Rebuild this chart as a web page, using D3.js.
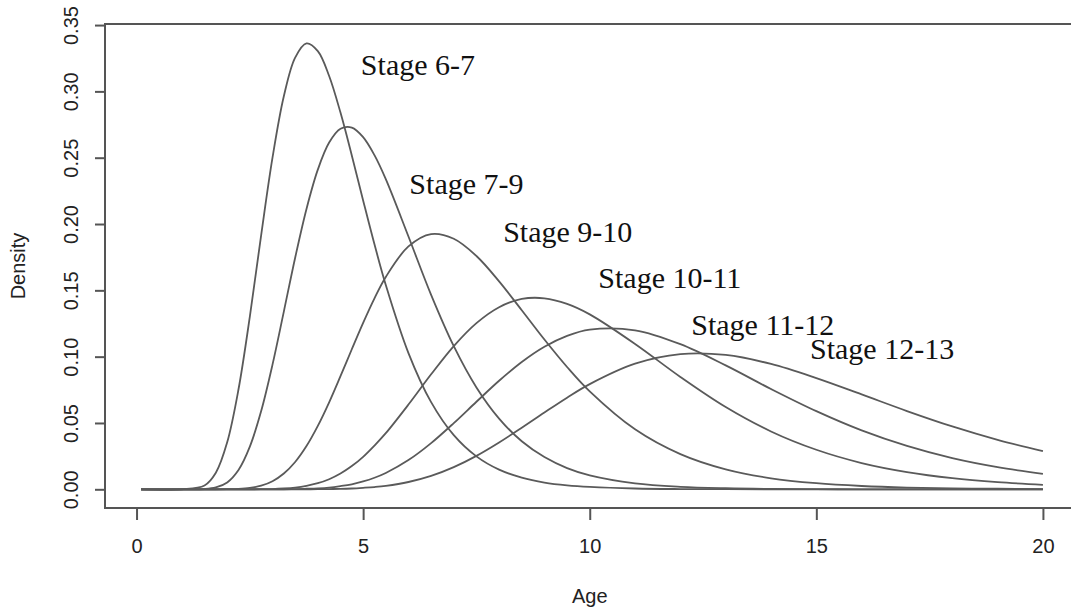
<!DOCTYPE html>
<html>
<head>
<meta charset="utf-8">
<script src="https://cdn.jsdelivr.net/npm/d3@7"></script>
<style>
  body { margin: 0; background: #fff; }
  #chart { width: 1071px; height: 615px; }
  .axis text { font-family: "Liberation Sans", Arial, sans-serif; font-size: 20px; fill: #222; }
  .axis path, .axis line { stroke: #555; stroke-width: 2; }
  .stage-label { font-family: "Liberation Serif", "Times New Roman", serif; font-size: 30px; fill: #111; }
  .axis-title { font-family: "Liberation Sans", Arial, sans-serif; font-size: 20px; fill: #222; }
</style>
</head>
<body>
<div id="chart"></div>
<script>
let ages = [0.1, 1, 1.5, 1.75, 2, 2.25, 2.5, 2.75, 3, 3.25, 3.5, 3.75, 4, 4.25, 4.5, 4.75,
  5, 5.25, 5.5, 6, 6.5, 7, 7.5, 8, 8.5, 9, 9.5, 10, 11, 12, 13, 14, 15, 16, 17, 18, 19, 20]

let stage67 = [0, 0, 0.0029, 0.0125, 0.0354, 0.0754, 0.1302, 0.1917, 0.2500, 0.2963, 0.3255, 0.3362,
  0.3304, 0.3116, 0.2840, 0.2517, 0.2178, 0.1847, 0.1540, 0.1027, 0.0657, 0.0408, 0.0248, 0.0148,
  0.0088, 0.0051, 0.0030, 0.0018, 0.0006, 0.0002, 0.0001, 0, 0, 0, 0, 0, 0, 0]
let stage79 = [0, 0, 0.0002, 0.0014, 0.0052, 0.0146, 0.0322, 0.0590, 0.0940, 0.1340, 0.1746, 0.2114,
  0.2410, 0.2614, 0.2718, 0.2727, 0.2655, 0.2519, 0.2338, 0.1906, 0.1466, 0.1079, 0.0768, 0.0533,
  0.0362, 0.0243, 0.0160, 0.0105, 0.0045, 0.0019, 0.0008, 0.0003, 0.0001, 0, 0, 0, 0, 0]
let stage910 = [0, 0, 0, 0, 0.0001, 0.0003, 0.0010, 0.0027, 0.0061, 0.0119, 0.0206, 0.0326,
  0.0478, 0.0656, 0.0853, 0.1056, 0.1255, 0.1440, 0.1601, 0.1831, 0.1924, 0.1889, 0.1759, 0.1568,
  0.1350, 0.1129, 0.0922, 0.0738, 0.0452, 0.0265, 0.0150, 0.0083, 0.0046, 0.0025, 0.0013, 0.0007, 0.0004, 0.0002]
let stage1011 = [0, 0, 0, 0, 0, 0, 0, 0.0001, 0.0002, 0.0006, 0.0013, 0.0026,
  0.0046, 0.0076, 0.0119, 0.0175, 0.0245, 0.0330, 0.0423, 0.0639, 0.0867, 0.1080, 0.1253, 0.1373,
  0.1435, 0.1440, 0.1398, 0.1319, 0.1096, 0.0847, 0.0620, 0.0436, 0.0298, 0.0198, 0.0130, 0.0084, 0.0054, 0.0034]
let stage1112 = [0, 0, 0, 0, 0, 0, 0, 0, 0, 0, 0.0002, 0.0004,
  0.0007, 0.0013, 0.0024, 0.0038, 0.0059, 0.0087, 0.0123, 0.0220, 0.0348, 0.0499, 0.0660, 0.0818,
  0.0960, 0.1075, 0.1157, 0.1204, 0.1199, 0.1094, 0.0934, 0.0756, 0.0589, 0.0444, 0.0327, 0.0235, 0.0167, 0.0117]
let stage1213 = [0, 0, 0, 0, 0, 0, 0, 0, 0, 0, 0, 0,
  0.0001, 0.0002, 0.0003, 0.0006, 0.0011, 0.0017, 0.0026, 0.0055, 0.0101, 0.0167, 0.0252, 0.0353,
  0.0464, 0.0579, 0.0691, 0.0793, 0.0947, 0.1019, 0.1013, 0.0945, 0.0838, 0.0715, 0.0590, 0.0474, 0.0373, 0.0288]

let stageNames = ["Stage 6-7", "Stage 7-9", "Stage 9-10", "Stage 10-11", "Stage 11-12", "Stage 12-13"]
// where each label sits, in age / density units (left end of baseline)
let labelAge = [4.95, 6.02, 8.09, 10.19, 12.24, 14.86]
let labelDensity = [0.312, 0.223, 0.1865, 0.152, 0.1162, 0.0986]

let xTicks = [0, 5, 10, 15, 20]
let yTicks = [0, 0.05, 0.10, 0.15, 0.20, 0.25, 0.30, 0.35]

let series = [stage67, stage79, stage910, stage1011, stage1112, stage1213]

let width = 1071, height = 615
let box = {left: 105, right: 1079, top: 24, bottom: 508}

// R pads the data range by 4% on each side
let xScale = d3.scaleLinear()
  .domain([-0.696, 20.796])
  .range([box.left, box.right])
let yScale = d3.scaleLinear()
  .domain([-0.0141, 0.3508])
  .range([box.bottom, box.top])

let svg = d3.select("#chart").append("svg")
  .attr("width", width)
  .attr("height", height)

// curves
let line = d3.line()
  .x(function(d) { return xScale(d[0]) })
  .y(function(d) { return yScale(d[1]) })
  .curve(d3.curveCatmullRom.alpha(0.5))

svg.append("g")
  .selectAll("path")
  .data(series)
  .enter().append("path")
  .attr("d", function(vals) { return line(ages.map(function(a, i) { return [a, vals[i]] })) })
  .attr("fill", "none")
  .attr("stroke", "#5a5a5a")
  .attr("stroke-width", 1.8)

// box
svg.append("rect")
  .attr("x", box.left)
  .attr("y", box.top)
  .attr("width", box.right - box.left)
  .attr("height", box.bottom - box.top)
  .attr("fill", "none")
  .attr("stroke", "#555")
  .attr("stroke-width", 2)

// AXES
let xAxis = d3.axisBottom(xScale)
  .tickValues(xTicks)
  .tickFormat(d3.format("d"))
  .tickSize(12)
  .tickSizeOuter(0)

svg.append("g")
  .attr("class", "x axis")
  .attr("transform", "translate(0," + box.bottom + ")")
  .call(xAxis)
  .call(function(g) { g.select(".domain").remove() })
  .selectAll(".tick text")
  .attr("y", 45)
  .attr("dy", 0)

let yAxis = d3.axisLeft(yScale)
  .tickValues(yTicks)
  .tickFormat(d3.format(".2f"))
  .tickSize(10)
  .tickSizeOuter(0)

svg.append("g")
  .attr("class", "y axis")
  .attr("transform", "translate(" + box.left + ",0)")
  .call(yAxis)
  .call(function(g) { g.select(".domain").remove() })
  .selectAll(".tick text")
  .attr("transform", "rotate(-90)")
  .attr("x", 0)
  .attr("y", -27)
  .attr("dy", 0)
  .style("text-anchor", "middle")

svg.append("text")
  .attr("class", "axis-title")
  .attr("x", (xScale(0) + xScale(20)) / 2)
  .attr("y", 603)
  .style("text-anchor", "middle")
  .text("Age")

svg.append("text")
  .attr("class", "axis-title")
  .attr("transform", "translate(25," + (box.top + box.bottom) / 2 + "),rotate(-90)")
  .style("text-anchor", "middle")
  .text("Density")

// stage labels
svg.append("g")
  .selectAll("text")
  .data(stageNames)
  .enter().append("text")
  .attr("class", "stage-label")
  .attr("x", function(d, i) { return xScale(labelAge[i]) })
  .attr("y", function(d, i) { return yScale(labelDensity[i]) })
  .text(function(d) { return d })
</script>
</body>
</html>
